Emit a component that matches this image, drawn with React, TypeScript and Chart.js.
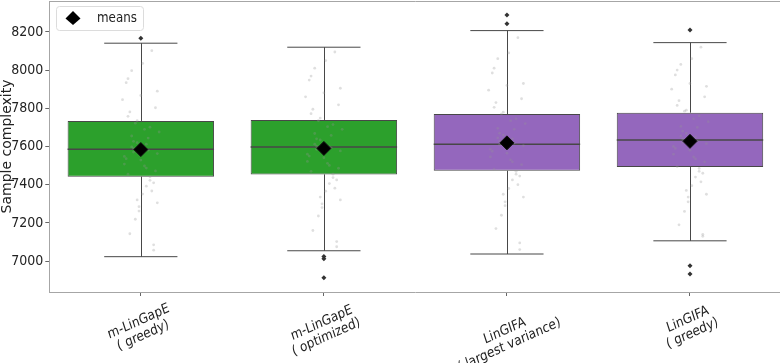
import React, { useEffect, useRef } from 'react';
import { Chart, registerables } from 'chart.js';

Chart.register(...registerables);

// ---------- data ----------
const CATEGORIES: string[][] = [
  ['m-LinGapE', '( greedy)'],
  ['m-LinGapE', '( optimized)'],
  ['LinGIFA', '( largest variance)'],
  ['LinGIFA', '( greedy)'],
];
const BOX_COLORS = ['#2ca02c', '#2ca02c', '#9467bd', '#9467bd'];
const Q1 = [7442, 7454, 7473, 7493];
const MEDIAN = [7585, 7597, 7612, 7634];
const Q3 = [7734, 7739, 7770, 7777];
const WHISKER_LOW = [7023, 7054, 7037, 7106];
const WHISKER_HIGH = [8141, 8120, 8207, 8144];
const MEANS = [7584, 7590, 7619, 7627];
const OUTLIERS: number[][] = [[8167], [7024, 7012, 6912], [8289, 8243], [8210, 6975, 6932]];
const Y_TICKS = [7000, 7200, 7400, 7600, 7800, 8000, 8200];
const Y_MIN = 6838;
const Y_MAX = 8362;

// hand-read jitter offsets (category units) and strip samples
const JITTER = [
  0.03, -0.07, 0.09, -0.02, 0.05, -0.09, 0.01, 0.07, -0.05, -0.01,
  0.08, -0.04, 0.02, -0.08, 0.06, -0.03, 0.04, -0.06, 0.1, 0,
  -0.1, 0.05, -0.02, 0.07, -0.07, 0.03, -0.05, 0.09, -0.01, 0.02,
  -0.09, 0.06, -0.04, 0.01, -0.06, 0.08, -0.03, 0.04, -0.08, 0,
  0.05, -0.05, 0.07, -0.02, 0.03, -0.07, 0.09, -0.04,
];
const STRIP_1 = [
  7612, 7455, 7890, 7320, 7701, 7548, 8035, 7410, 7655, 7262,
  7803, 7589, 7498, 7934, 7367, 7722, 7581, 7143, 7676, 7529,
  7845, 7441, 7620, 7085, 7758, 7392, 7997, 7563, 7285, 7690,
  7508, 8102, 7627, 7351, 7781, 7472, 7219, 7644, 7536, 7867,
  7423, 7598, 7057, 7735, 7487, 7955, 7305, 7571,
];
const STRIP_2 = [
  7598, 7470, 7905, 7335, 7715, 7560, 8050, 7425, 7668, 7280,
  7818, 7602, 7512, 7948, 7382, 7736, 7593, 7160, 7690, 7541,
  7860, 7455, 7634, 7102, 7772, 7406, 8010, 7577, 7300, 7704,
  7522, 8095, 7640, 7366, 7795, 7486, 7236, 7658, 7550, 7881,
  7437, 7612, 7075, 7749, 7501, 7969, 7320, 7585,
];
const STRIP_3 = [
  7640, 7480, 7930, 7350, 7745, 7585, 8090, 7445, 7695, 7290,
  7850, 7628, 7530, 7985, 7400, 7770, 7618, 7170, 7720, 7565,
  7895, 7470, 7660, 7095, 7805, 7425, 8060, 7605, 7310, 7735,
  7545, 8170, 7670, 7380, 7830, 7505, 7240, 7690, 7575, 7920,
  7455, 7645, 7060, 7780, 7520, 8010, 7335, 7610,
];
const STRIP_4 = [
  7650, 7495, 7915, 7370, 7760, 7600, 8060, 7460, 7705, 7310,
  7860, 7640, 7545, 7975, 7415, 7785, 7628, 7190, 7730, 7580,
  7900, 7485, 7668, 7130, 7815, 7440, 8030, 7615, 7335, 7745,
  7560, 8120, 7680, 7395, 7840, 7520, 7260, 7700, 7590, 7930,
  7470, 7655, 7140, 7790, 7535, 8000, 7350, 7622,
];
const STRIPS = [STRIP_1, STRIP_2, STRIP_3, STRIP_4];

// ---------- styling ----------
const FONT = '"DejaVu Sans", sans-serif';
const SQUASH = 0.85;
const LABEL_ANGLE = 21;
const LABEL_LH = 15;
const LINE_COLOR = '#474747';
const FRAME_COLOR = '#a6a6a6';

const boxPlugin = {
  id: 'boxParts',
  afterDatasetDraw(chart: any, args: any) {
    if (args.index !== 0) return;
    const { ctx } = chart;
    const xs = chart.scales.x;
    const ys = chart.scales.y;
    const meta = chart.getDatasetMeta(0);
    ctx.save();
    ctx.strokeStyle = LINE_COLOR;
    ctx.lineWidth = 1;
    Q1.forEach((q1, i) => {
      const cx = Math.round(xs.getPixelForValue(i)) + 0.5;
      const bar = meta.data[i];
      const half = bar ? bar.width / 2 : 73;
      const capL = xs.getPixelForValue(i - 0.2);
      const capR = xs.getPixelForValue(i + 0.2);
      const yQ1 = ys.getPixelForValue(q1);
      const yQ3 = ys.getPixelForValue(Q3[i]);
      const yLo = ys.getPixelForValue(WHISKER_LOW[i]);
      const yHi = ys.getPixelForValue(WHISKER_HIGH[i]);
      ctx.beginPath();
      ctx.moveTo(cx, yQ3);
      ctx.lineTo(cx, yHi);
      ctx.moveTo(cx, yQ1);
      ctx.lineTo(cx, yLo);
      ctx.moveTo(capL, yHi);
      ctx.lineTo(capR, yHi);
      ctx.moveTo(capL, yLo);
      ctx.lineTo(capR, yLo);
      ctx.stroke();
      const yMed = ys.getPixelForValue(MEDIAN[i]);
      ctx.lineWidth = 1.5;
      ctx.beginPath();
      ctx.moveTo(xs.getPixelForValue(i) - half, yMed);
      ctx.lineTo(xs.getPixelForValue(i) + half, yMed);
      ctx.stroke();
      ctx.lineWidth = 1;
    });
    ctx.restore();
  },
};

const textPlugin = {
  id: 'textParts',
  afterDraw(chart: any) {
    const { ctx, chartArea } = chart;
    const xs = chart.scales.x;
    ctx.save();
    // top frame line
    ctx.strokeStyle = FRAME_COLOR;
    ctx.lineWidth = 1;
    ctx.beginPath();
    ctx.moveTo(chartArea.left, Math.round(chartArea.top) + 0.5);
    ctx.lineTo(chartArea.right, Math.round(chartArea.top) + 0.5);
    ctx.stroke();

    // x category labels
    ctx.font = `14px ${FONT}`;
    ctx.fillStyle = '#222';
    const th = (LABEL_ANGLE * Math.PI) / 180;
    CATEGORIES.forEach((lines, i) => {
      const px = xs.getPixelForValue(i);
      const W = Math.max(...lines.map((l) => ctx.measureText(l).width));
      const H = lines.length * LABEL_LH;
      const bh = W * Math.sin(th) + H * Math.cos(th);
      const cy = chartArea.bottom + 9 + bh / 2;
      ctx.save();
      ctx.translate(px, cy);
      ctx.scale(SQUASH, 1);
      ctx.rotate(-th);
      ctx.textAlign = 'center';
      ctx.textBaseline = 'middle';
      lines.forEach((l, j) => {
        ctx.fillText(l, 0, (j - (lines.length - 1) / 2) * LABEL_LH);
      });
      ctx.restore();
    });

    // legend
    const lx = 56.5, ly = 6.5, lw = 87, lh = 24;
    ctx.beginPath();
    ctx.roundRect(lx, ly, lw, lh, 3);
    ctx.fillStyle = 'rgba(255,255,255,0.85)';
    ctx.fill();
    ctx.strokeStyle = '#dcdcdc';
    ctx.stroke();
    ctx.fillStyle = '#000';
    ctx.beginPath();
    ctx.moveTo(73, 11);
    ctx.lineTo(80.5, 18.5);
    ctx.lineTo(73, 25);
    ctx.lineTo(65.5, 18.5);
    ctx.closePath();
    ctx.fill();
    ctx.save();
    ctx.translate(97, 18.5);
    ctx.scale(SQUASH, 1);
    ctx.fillStyle = '#222';
    ctx.textAlign = 'left';
    ctx.textBaseline = 'middle';
    ctx.fillText('means', 0, 0);
    ctx.restore();
    ctx.restore();
  },
};

export default function App() {
  const ref = useRef<HTMLCanvasElement>(null);
  useEffect(() => {
    document.body.style.margin = '0';
    document.body.style.overflow = 'hidden';
    if (!ref.current) return;
    const stripData = STRIPS.flatMap((vals, i) =>
      vals.map((v, k) => ({ x: i + JITTER[k % JITTER.length], y: v }))
    );
    const outlierData = OUTLIERS.flatMap((vals, i) => vals.map((v) => ({ x: i, y: v })));
    const meanData = MEANS.map((v, i) => ({ x: i, y: v }));
    const chart = new Chart(ref.current, {
      type: 'scatter',
      data: {
        datasets: [
          {
            type: 'bar',
            data: Q1.map((q, i) => ({ x: i, y: [q, Q3[i]] })) as any,
            backgroundColor: BOX_COLORS,
            borderColor: LINE_COLOR,
            borderWidth: 1,
            borderSkipped: false,
            barPercentage: 0.8,
            categoryPercentage: 1,
            order: 3,
          } as any,
          {
            type: 'scatter',
            data: stripData,
            pointRadius: 1.4,
            pointBackgroundColor: 'rgba(150,150,150,0.3)',
            pointBorderWidth: 0,
            order: 2,
          },
          {
            type: 'scatter',
            data: outlierData,
            pointStyle: 'rectRot',
            pointRadius: 2.5,
            pointBackgroundColor: '#333',
            pointBorderWidth: 0,
            order: 1,
          },
          {
            type: 'scatter',
            label: 'means',
            data: meanData,
            pointStyle: 'rectRot',
            pointRadius: 7,
            pointBackgroundColor: '#000',
            pointBorderColor: '#111',
            pointBorderWidth: 1,
            order: 0,
          },
        ],
      },
      options: {
        responsive: false,
        animation: false,
        layout: { autoPadding: false, padding: { top: 1, right: 8.5, left: 0, bottom: 0 } },
        plugins: { legend: { display: false }, tooltip: { enabled: false }, title: { display: false } },
        events: [],
        scales: {
          x: {
            type: 'linear',
            min: -0.5,
            max: 3.5,
            offset: false,
            afterBuildTicks: (s: any) => {
              s.ticks = CATEGORIES.map((_, i) => ({ value: i }));
            },
            afterFit: (s: any) => {
              s.height = 71;
              s.paddingLeft = 0;
              s.paddingRight = 0;
            },
            ticks: { display: false },
            grid: { display: true, drawOnChartArea: false, drawTicks: true, tickLength: 4, color: '#666', offset: false },
            border: { display: true, color: FRAME_COLOR, width: 1 },
          },
          y: {
            type: 'linear',
            min: Y_MIN,
            max: Y_MAX,
            afterBuildTicks: (s: any) => {
              s.ticks = Y_TICKS.map((v) => ({ value: v }));
            },
            afterFit: (s: any) => {
              s.width = 49.3;
              s.paddingTop = 0;
              s.paddingBottom = 0;
            },
            ticks: {
              font: { family: '"DejaVu Sans Condensed", "DejaVu Sans", sans-serif', size: 14 },
              color: '#222',
              padding: 2,
              callback: (v: any) => String(v),
            },
            grid: { display: true, drawOnChartArea: false, drawTicks: true, tickLength: 4, color: '#666' },
            border: { display: true, color: FRAME_COLOR, width: 1 },
            title: {
              display: true,
              text: 'Sample complexity',
              color: '#222',
              font: { family: FONT, size: 14, lineHeight: 1 },
              padding: { top: 0, bottom: 0 },
            },
          },
        },
      },
      plugins: [boxPlugin, textPlugin],
    });
    return () => chart.destroy();
  }, []);
  return (
    <div style={{ position: 'fixed', left: 0, top: 0, width: 790, height: 363 }}>
      <canvas ref={ref} width={790} height={363} />
    </div>
  );
}
